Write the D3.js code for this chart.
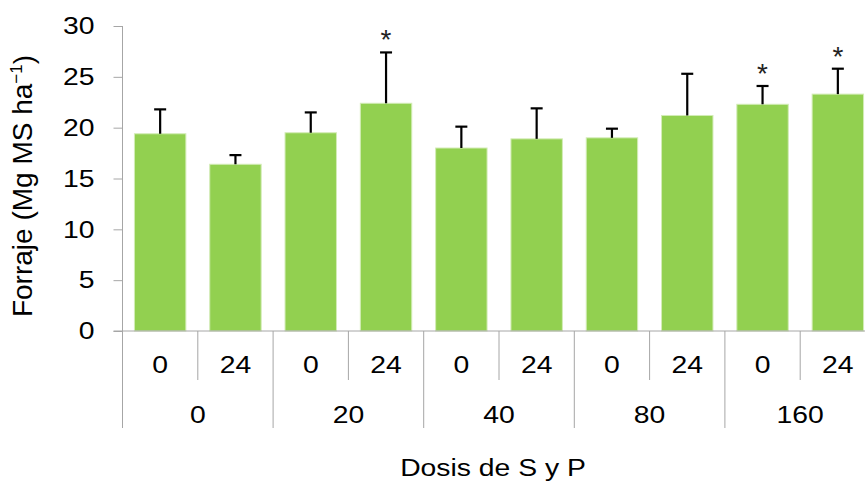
<!DOCTYPE html>
<html>
<head>
<meta charset="utf-8">
<script src="https://cdn.jsdelivr.net/npm/d3@7"></script>
<style>
  html, body { margin: 0; padding: 0; background: #fff; }
  svg { display: block; font-family: "Liberation Sans", Arial, sans-serif; }
</style>
</head>
<body>
<svg id="chart" width="865" height="482"></svg>
<script>
// Doses of S (inner level) nested within doses of P (outer level)
const groups = ["0", "20", "40", "80", "160"];
const subLabels = ["0", "24"];
// Forage yield (Mg MS ha-1), mean and upper error per treatment, in plotting order
const forage = [19.4, 16.4, 19.5, 22.4, 18.0, 18.9, 19.0, 21.2, 22.3, 23.3];
const errorTop = [21.8, 17.3, 21.5, 27.4, 20.1, 21.9, 19.9, 25.3, 24.1, 25.8];
const significant = [false, false, false, true, false, false, false, false, true, true];
const yTicks = [0, 5, 10, 15, 20, 25, 30];

(function draw() {
  const svg = d3.select("#chart");
  const plotLeft = 122.5, plotRight = 875.5, plotTop = 26, plotBottom = 331;
  const axisColor = "#a6a6a6";
  const fontSize = 24, widen = 1.18;   // labels are set slightly wide

  const keys = [];
  groups.forEach(g => subLabels.forEach(s => keys.push(g + "|" + s)));

  const x = d3.scaleBand().domain(keys).range([plotLeft, plotRight])
    .paddingInner(0.317).paddingOuter(0.1585);
  const y = d3.scaleLinear().domain([0, 30]).range([plotBottom, plotTop]);
  const step = x.step();
  const groupStart = g => x(g + "|0") - x.paddingOuter() * step;

  // Helper: a widened text label anchored at (px, py)
  function label(parent, px, py, txt, anchor, size) {
    return parent.append("text")
      .attr("transform", `translate(${px},${py}) scale(${widen},1)`)
      .attr("text-anchor", anchor || "middle")
      .attr("dy", "0.35em")
      .attr("font-size", size || fontSize)
      .attr("fill", "#000")
      .text(txt);
  }

  // Bars
  svg.append("g").selectAll("rect").data(keys).join("rect")
    .attr("x", d => x(d))
    .attr("width", x.bandwidth())
    .attr("y", (d, i) => y(forage[i]))
    .attr("height", (d, i) => y(0) - y(forage[i]))
    .attr("fill", "#92d050")
    .attr("stroke", "#d3ecb6")
    .attr("stroke-width", 1);

  // Upper error bars
  const eb = svg.append("g").attr("stroke", "#000").attr("stroke-width", 2.2);
  keys.forEach((k, i) => {
    const cx = x(k) + x.bandwidth() / 2;
    eb.append("line").attr("x1", cx).attr("x2", cx)
      .attr("y1", y(forage[i])).attr("y2", y(errorTop[i]));
    eb.append("line").attr("x1", cx - 6).attr("x2", cx + 6)
      .attr("y1", y(errorTop[i])).attr("y2", y(errorTop[i]));
  });

  // Significance marks
  svg.append("g").selectAll("text").data(keys.filter((k, i) => significant[i])).join("text")
    .attr("x", d => x(d) + x.bandwidth() / 2)
    .attr("y", d => y(errorTop[keys.indexOf(d)]) - 3)
    .attr("text-anchor", "middle")
    .attr("font-size", 28)
    .attr("fill", "#222")
    .text("*");

  // Y axis
  const yAxis = svg.append("g").attr("transform", `translate(${plotLeft},0)`)
    .call(d3.axisLeft(y).tickValues(yTicks).tickSize(9).tickSizeOuter(0).tickPadding(19));
  yAxis.select(".domain").remove();
  yAxis.selectAll(".tick line").attr("stroke", axisColor);
  yAxis.selectAll(".tick text")
    .attr("x", null)
    .attr("transform", `translate(-28,0) scale(${widen},1)`)
    .attr("font-size", fontSize).attr("fill", "#000")
    .attr("font-family", "Liberation Sans, Arial, sans-serif");
  svg.append("line").attr("x1", plotLeft).attr("x2", plotLeft).attr("y1", y(30)).attr("y2", 428)
    .attr("stroke", axisColor);

  // X axis line
  svg.append("line").attr("x1", plotLeft - 9).attr("x2", 865).attr("y1", plotBottom).attr("y2", plotBottom)
    .attr("stroke", axisColor);

  // Divider ticks: short between S doses, long between P groups
  const xa = svg.append("g").attr("stroke", axisColor);
  groups.forEach(g => {
    const gx0 = groupStart(g);
    xa.append("line").attr("x1", gx0 + step).attr("x2", gx0 + step)
      .attr("y1", plotBottom).attr("y2", 380);
    xa.append("line").attr("x1", gx0 + 2 * step).attr("x2", gx0 + 2 * step)
      .attr("y1", plotBottom).attr("y2", 428);
  });

  // Category labels: S dose, then P dose
  const cl = svg.append("g");
  keys.forEach(k => label(cl, x(k) + x.bandwidth() / 2, 365, k.split("|")[1]));
  groups.forEach(g => label(cl, groupStart(g) + step, 415, g));

  // Axis titles
  svg.append("text")
    .attr("transform", `translate(${(plotLeft + plotRight) / 2 - 6},476) scale(${widen},1)`)
    .attr("text-anchor", "middle").attr("font-size", fontSize).text("Dosis de S y P");

  const yt = svg.append("text")
    .attr("transform", "translate(22,186) rotate(-90)")
    .attr("dy", "0.35em")
    .attr("text-anchor", "middle").attr("font-size", 28);
  yt.append("tspan").text("Forraje (Mg MS ha");
  yt.append("tspan").attr("font-size", 17).attr("dy", "-0.6em").text("−1");
  yt.append("tspan").attr("dy", "0.4em").text(")");
})();
</script>
</body>
</html>
